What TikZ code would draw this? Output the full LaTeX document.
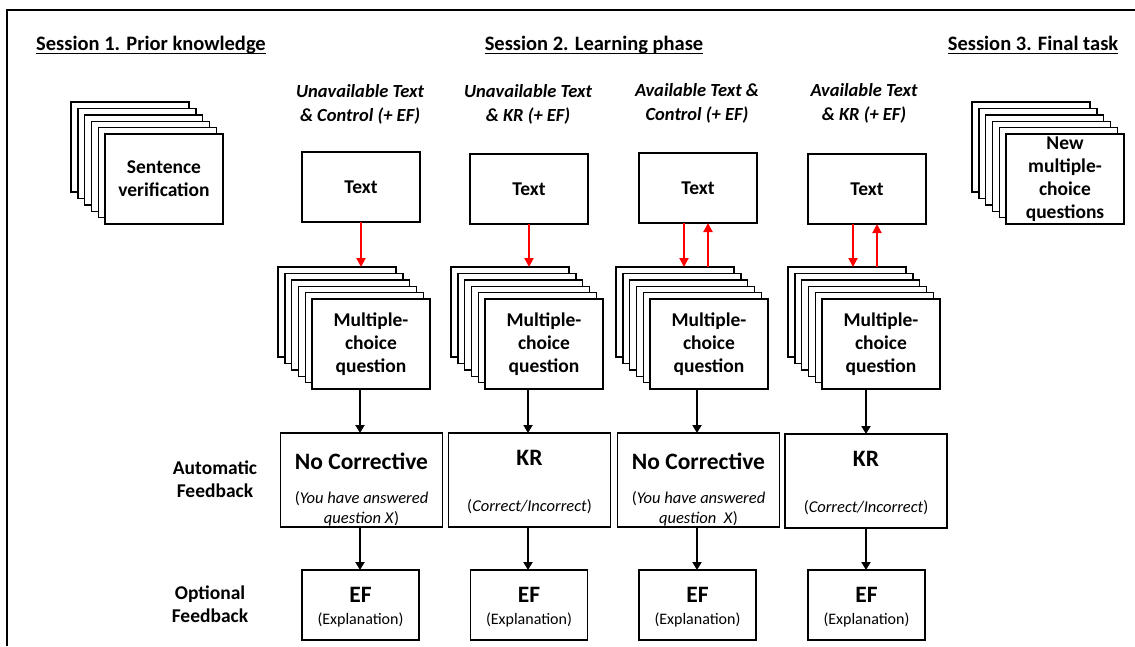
\documentclass[tikz,border=0pt]{standalone}
\usepackage{fontspec}
\setmainfont{Carlito}
\usetikzlibrary{arrows.meta,calc}

% font sizes used in the figure
\newcommand\fHead{\fontsize{20.5}{24}\selectfont\bfseries}
\newcommand\fTitle{\fontsize{18.5}{24}\selectfont\bfseries\itshape}
\newcommand\fBody{\fontsize{19.5}{23}\selectfont\bfseries}
\newcommand\fBig{\fontsize{23.5}{27}\selectfont\bfseries}
\newcommand\fNote{\fontsize{16.5}{20}\selectfont}
\newcommand\fSmall{\fontsize{16}{18}\selectfont}

% a stack of six cards: name, top-left of the back card, text of the front card
\newcommand\cardstack[4]{%
  \foreach \k in {0,...,4}{
    \node[card] (#1-\k) at ({#2+59+6.8*\k},{#3+45+6.4*\k}) {};
  }
  \node[card] (#1) at ({#2+59+34},{#3+45+32}) {#4};
}

\tikzset{
  every node/.style={inner sep=0pt, outer sep=0pt},
  card/.style={draw, fill=white, line width=1.4pt, minimum width=118pt,
    minimum height=90pt, align=center, font=\fBody},
  textbox/.style={draw, line width=1.4pt, minimum width=118pt,
    minimum height=70pt, font=\fBody},
  fbbox/.style={draw, line width=1.4pt, minimum width=162pt, minimum height=94pt},
  efbox/.style={draw, line width=1.4pt, minimum width=117pt, minimum height=70pt},
  head/.style={font=\fHead, anchor=base},
  cond/.style={font=\fTitle, align=center},
  rowlabel/.style={font=\fBody, align=center},
  redarr/.style={draw=red, line width=2pt, -{Triangle[length=9pt,width=9pt]}},
  blackarr/.style={draw=black, line width=2.4pt, -{Triangle[length=8pt,width=9pt]}},
}

\begin{document}
\begin{tikzpicture}[x=1pt, y=-1pt]
\useasboundingbox (0,0) rectangle (1135,646);

% outer frame
\draw[line width=2pt] (7,646) -- (7,10) -- (1136,10);

% session headings
\node[head] (h1) at (151,50) {Session 1. Prior knowledge};
\node[head] (h2) at (594,50) {Session 2. Learning phase};
\node[head] (h3) at (1033,50) {Session 3. Final task};
\foreach \h in {h1,h2,h3}{
  \draw[line width=1.4pt] ([yshift=-3.5pt]\h.base west) -- ([yshift=-3.5pt]\h.base east);
}

% session 1 and session 3 stacks
\cardstack{sv}{71}{102}{Sentence\\verification}
\cardstack{nq}{972}{102}{New\\multiple-\\choice\\questions}

% condition titles
\node[cond] (c1) at (360,104) {Unavailable Text\\\& Control (+ EF)};
\node[cond] (c2) at (528,104) {Unavailable Text\\\& KR (+ EF)};
\node[cond] (c3) at (697,103) {Available Text \&\\Control (+ EF)};
\node[cond] (c4) at (864,103) {Available Text\\\& KR (+ EF)};

% text boxes
\node[textbox] (t1) at (361,187) {Text};
\node[textbox] (t2) at (529,189) {Text};
\node[textbox] (t3) at (698,188) {Text};
\node[textbox] (t4) at (867,189) {Text};

% question stacks
\cardstack{q1}{278}{267}{Multiple-\\choice\\question}
\cardstack{q2}{451}{267}{Multiple-\\choice\\question}
\cardstack{q3}{616}{267}{Multiple-\\choice\\question}
\cardstack{q4}{788}{267}{Multiple-\\choice\\question}

% automatic feedback boxes
\node[fbbox] (f1) at (361.5,480) {};
\node[fbbox] (f2) at (529.5,480) {};
\node[fbbox] (f3) at (698.5,480) {};
\node[fbbox] (f4) at (866,481) {};

\node[font=\fBig] (f1a) at ($(f1.north)+(0,28)$) {No Corrective};
\node[font=\fNote, align=center] (f1b) at ($(f1.north)+(0,76)$)
  {(\textit{You have answered}\\\textit{question X})};
\node[font=\fBig] (f2a) at ($(f2.north)+(0,25)$) {KR};
\node[font=\fNote] (f2b) at ($(f2.north)+(0,74)$) {(\textit{Correct/Incorrect})};
\node[font=\fBig] (f3a) at ($(f3.north)+(0,28)$) {No Corrective};
\node[font=\fNote, align=center] (f3b) at ($(f3.north)+(0,76)$)
  {(\textit{You have answered}\\\textit{question\ \ X})};
\node[font=\fBig] (f4a) at ($(f4.north)+(0,25)$) {KR};
\node[font=\fNote] (f4b) at ($(f4.north)+(0,74)$) {(\textit{Correct/Incorrect})};

% optional feedback boxes
\node[efbox] (e1) at (360.5,605) {};
\node[efbox] (e2) at (529,605) {};
\node[efbox] (e3) at (697.5,605) {};
\node[efbox] (e4) at (866.5,605) {};
\foreach \e in {e1,e2,e3,e4}{
  \node[font=\fBig] (\e a) at ($(\e.north)+(0,25)$) {EF};
  \node[font=\fSmall] (\e b) at ($(\e.north)+(0,50)$) {(Explanation)};
}

% row labels
\node[rowlabel] (la) at (215,479) {Automatic\\Feedback};
\node[rowlabel] (lo) at (210,604) {Optional\\Feedback};

% text <-> question connectors
\draw[redarr] (t1.south) -- (t1.south |- q1-0.north);
\draw[redarr] (t2.south) -- (t2.south |- q2-0.north);
\draw[redarr] ([xshift=-14pt]t3.south) -- ([xshift=-14pt]t3.south |- q3-0.north);
\draw[redarr] ([xshift=10pt]t3.south |- q3-0.north) -- ([xshift=10pt]t3.south);
\draw[redarr] ([xshift=-14pt]t4.south) -- ([xshift=-14pt]t4.south |- q4-0.north);
\draw[redarr] ([xshift=10pt]t4.south |- q4-0.north) -- ([xshift=10pt]t4.south);

% question -> feedback -> explanation
\foreach \n/\x in {1/360,2/528,3/697,4/866}{
  \draw[blackarr] (\x,0 |- q\n.south) -- (\x,0 |- f\n.north);
  \draw[blackarr] (\x,0 |- f\n.south) -- (\x,0 |- e\n.north);
}
\end{tikzpicture}
\end{document}
